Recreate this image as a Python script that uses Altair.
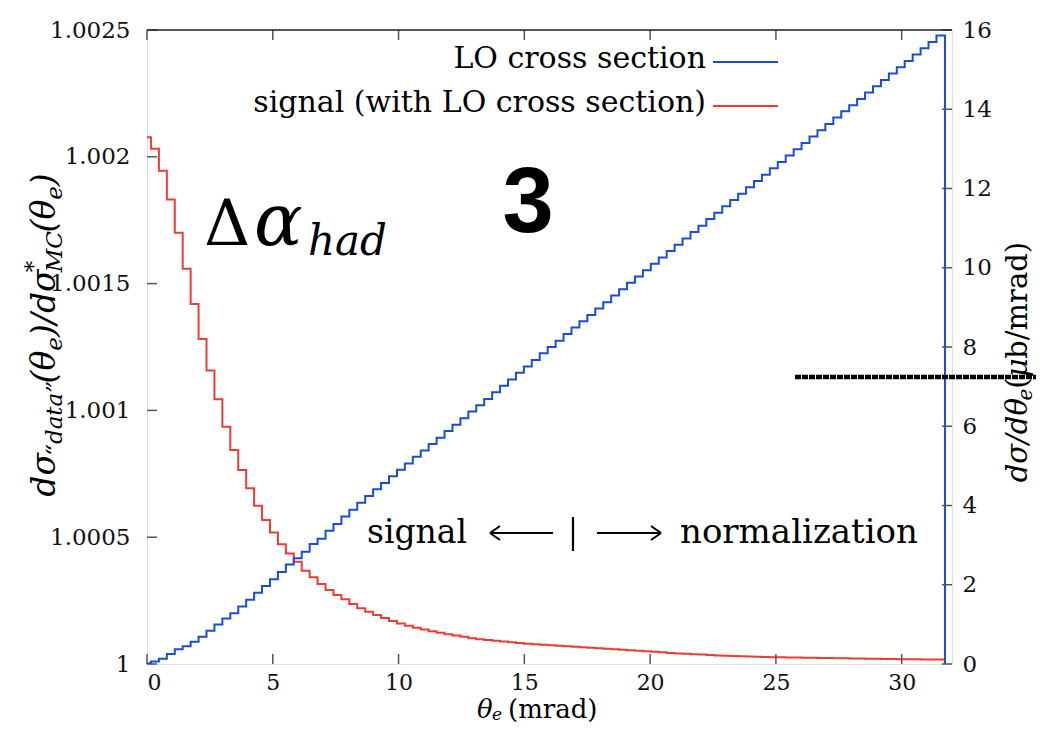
import altair as alt
import pandas as pd

# ---------------- data ----------------
BIN_W = 0.3154          # mrad, width of one histogram bin
X_END = 31.72           # mrad, end of the last bin

# LO cross section dσ/dθe (µb/mrad), one value per bin (first bin is a half bin)
blue_vals = [
    0.02, 0.06, 0.13, 0.25, 0.37, 0.45, 0.56, 0.69, 0.84, 1.00,
    1.15, 1.28, 1.45, 1.62, 1.80, 1.97, 2.14, 2.32, 2.51, 2.67,
    2.83, 3.03, 3.16, 3.36, 3.53, 3.72, 3.89, 4.07, 4.24, 4.41,
    4.57, 4.74, 4.90, 5.06, 5.23, 5.39, 5.55, 5.71, 5.88, 6.04,
    6.20, 6.37, 6.53, 6.69, 6.86, 7.02, 7.18, 7.35, 7.51, 7.67,
    7.84, 8.00, 8.16, 8.33, 8.49, 8.65, 8.81, 8.97, 9.13, 9.30,
    9.46, 9.62, 9.78, 9.94, 10.10, 10.26, 10.42, 10.58, 10.74, 10.90,
    11.06, 11.23, 11.39, 11.55, 11.71, 11.87, 12.03, 12.19, 12.35, 12.51,
    12.67, 12.83, 12.99, 13.15, 13.31, 13.47, 13.63, 13.79, 13.95, 14.10,
    14.26, 14.42, 14.58, 14.74, 14.90, 15.06, 15.22, 15.38, 15.54, 15.70,
    15.86,
]

# signal ratio minus one, in units of 1e-4
red_excess_e4 = [
    20.77, 20.32, 19.45, 18.32, 17.01, 15.59, 14.20, 12.82, 11.57, 10.44,
    9.36, 8.44, 7.65, 6.93, 6.24, 5.68, 5.19, 4.72, 4.36, 4.03,
    3.68, 3.42, 3.15, 2.92, 2.72, 2.55, 2.37, 2.20, 2.06, 1.93,
    1.81, 1.70, 1.60, 1.51, 1.43, 1.36, 1.29, 1.23, 1.17, 1.12,
    1.07, 1.02, 0.98, 0.95, 0.92, 0.89, 0.86, 0.83, 0.80, 0.78,
    0.76, 0.74, 0.72, 0.70, 0.68, 0.66, 0.64, 0.62, 0.60, 0.58,
    0.56, 0.54, 0.52, 0.50, 0.48, 0.46, 0.43, 0.415, 0.40, 0.385,
    0.37, 0.355, 0.34, 0.325, 0.315, 0.305, 0.295, 0.285, 0.278, 0.27,
    0.263, 0.257, 0.252, 0.247, 0.242, 0.237, 0.232, 0.228, 0.224, 0.22,
    0.215, 0.21, 0.205, 0.20, 0.196, 0.192, 0.188, 0.185, 0.182, 0.179,
    0.176,
]
assert len(blue_vals) == 101 and len(red_excess_e4) == 101

x_ticks = [0, 5, 10, 15, 20, 25, 30]
left_ticks = [1.0, 1.0005, 1.001, 1.0015, 1.002, 1.0025]
right_ticks = [0, 2, 4, 6, 8, 10, 12, 14, 16]

# ---------------- tables ----------------
edges = [0.0] + [(k - 0.5) * BIN_W for k in range(1, len(blue_vals))]

blue_rows = [{"theta": e, "val2": v} for e, v in zip(edges, blue_vals)]
blue_rows += [{"theta": X_END, "val2": blue_vals[-1]}, {"theta": X_END, "val2": 0.0}]
blue_df = pd.DataFrame(blue_rows)
blue_df["i"] = range(len(blue_df))

red_rows = [{"theta": e, "val": 1 + v * 1e-4} for e, v in zip(edges, red_excess_e4)]
red_rows += [{"theta": X_END, "val": 1 + red_excess_e4[-1] * 1e-4}, {"theta": X_END, "val": 1.0}]
red_df = pd.DataFrame(red_rows)
red_df["i"] = range(len(red_df))

# ---------------- layout ----------------
W, H = 805, 634
PAD = {"left": 139, "top": 22, "right": 84, "bottom": 60}
OX, OY = 8 + PAD["left"], 8 + PAD["top"]     # page position of plot origin
SERIF = "DejaVu Serif"
SANS = "Liberation Sans"
BLUE = "#1b4cd6"
RED = "#ee3b34"
TICK = "#555555"
LAB = 23

x_enc = alt.X(
    "theta:Q",
    scale=alt.Scale(domain=[0, 32], nice=False, zero=False),
    axis=alt.Axis(values=x_ticks, ticks=False, tickSize=0, domain=False, grid=False,
                  labelFont=SERIF, labelFontSize=22, labelColor="#111",
                  labelPadding=8, title=None),
)
y_left = alt.Y(
    "val:Q",
    scale=alt.Scale(domain=[1.0, 1.0025], nice=False, zero=False),
    axis=alt.Axis(orient="left", values=left_ticks, format="~g", ticks=False, tickSize=0,
                  domain=False, grid=False, labelFont=SERIF, labelFontSize=LAB,
                  labelColor="#111", labelPadding=17, title=None),
)
y_right = alt.Y(
    "val2:Q",
    scale=alt.Scale(domain=[0, 16], nice=False, zero=False),
    axis=alt.Axis(orient="right", values=right_ticks, ticks=False, tickSize=0,
                  domain=False, grid=False, labelFont=SERIF, labelFontSize=LAB,
                  labelColor="#111", labelPadding=10, title=None),
)

red = alt.Chart(red_df).mark_line(interpolate="step-after", color=RED, strokeWidth=2).encode(
    x=x_enc, y=y_left, order="i:Q")
lt = alt.Chart(pd.DataFrame({"val": left_ticks})).mark_rule(color=TICK, strokeWidth=1.5).encode(
    y=y_left, x=alt.value(0), x2=alt.value(10))
xt_df = pd.DataFrame({"theta": x_ticks})
xb = alt.Chart(xt_df).mark_rule(color=TICK, strokeWidth=1.5).encode(
    x=x_enc, y=alt.value(H - 10), y2=alt.value(H))
xtop = alt.Chart(xt_df).mark_rule(color=TICK, strokeWidth=1.5).encode(
    x=x_enc, y=alt.value(0), y2=alt.value(10))
left_group = alt.layer(red, lt, xb, xtop)

blue = alt.Chart(blue_df).mark_line(interpolate="step-after", color=BLUE, strokeWidth=2).encode(
    x=x_enc, y=y_right, order="i:Q")
rt = alt.Chart(pd.DataFrame({"val2": right_ticks})).mark_rule(color=TICK, strokeWidth=1.5).encode(
    y=y_right, x=alt.value(W - 10), x2=alt.value(W))
right_group = alt.layer(blue, rt)


def txt(s, page_x, page_y, size, font=SERIF, style="normal", weight="normal",
        align="left", angle=0, baseline="alphabetic", color="#000000"):
    mk = dict(font=font, fontSize=size, fontStyle=style, fontWeight=weight,
              align=align, baseline=baseline, color=color)
    if angle:
        mk["angle"] = angle
    return alt.Chart(pd.DataFrame({"t": [s]})).mark_text(**mk).encode(
        x=alt.value(page_x - OX), y=alt.value(page_y - OY), text="t:N")


def seg(x1, y1, x2, y2, color, width, dash=None):
    mk = dict(color=color, strokeWidth=width)
    if dash:
        mk["strokeDash"] = dash
    return alt.Chart(pd.DataFrame({"a": [0]})).mark_rule(**mk).encode(
        x=alt.value(x1 - OX), x2=alt.value(x2 - OX),
        y=alt.value(y1 - OY), y2=alt.value(y2 - OY))


ann = []
# top frame line
ann.append(seg(OX, OY, OX + W, OY, "#222222", 1.5))
# legend
ann.append(txt("LO cross section", 706, 68, 30, align="right"))
ann.append(seg(713, 62, 778, 62, BLUE, 2))
ann.append(txt("signal (with LO cross section)", 706, 112, 30, align="right"))
ann.append(seg(713, 106, 778, 106, RED, 2))
# big labels
ann.append(txt("3", 528, 232, 92, font=SANS, weight="bold", align="center"))
ann.append(txt("Δ", 204, 245, 64))
ann.append(txt("α", 254, 245, 72, style="italic"))
ann.append(txt("had", 308, 255, 42, style="italic"))
# signal <-- | --> normalization
ann.append(txt("signal", 367, 543, 33))
ann.append(seg(490, 533, 553, 533, "#000000", 2))      # left arrow shaft
ann.append(seg(490, 533, 500, 526, "#000000", 2))      # left arrow head
ann.append(seg(490, 533, 500, 540, "#000000", 2))
ann.append(seg(573, 517, 573, 551, "#000000", 2.2))    # separator bar
ann.append(seg(597, 533, 661, 533, "#000000", 2))      # right arrow shaft
ann.append(seg(661, 533, 651, 526, "#000000", 2))      # right arrow head
ann.append(seg(661, 533, 651, 540, "#000000", 2))
ann.append(txt("normalization", 680, 543, 34))
# scribbled black line
ann.append(seg(795, 377, 1036, 377, "#000000", 4.5, dash=[6, 1]))

# x title
ann.append(txt("θ", 477, 718, 26, style="italic"))
ann.append(txt("e", 492, 720, 17, style="italic"))
ann.append(txt("(mrad)", 508, 718, 26))

# left title pieces (rotated, reading bottom to top)
LM, LS = 33, 23
left_pieces = [  # text, role, em width
    ("dσ", "main", 1.24), ("“data”", "sub", 3.15), ("(θ", "main", 0.99),
    ("e", "sub", 0.592), (")/dσ", "main", 1.967), ("*", "sup", 0.0),
    ("MC", "sub", 1.729), ("(θ", "main", 0.99), ("e", "sub", 0.592), (")", "main", 0.39),
]
total = sum(w * (LM if r == "main" else LS) for _, r, w in left_pieces)
pos = 335 + total / 2
for s, r, w in left_pieces:
    size = LM if r == "main" else LS
    bx = {"main": 55, "sub": 62, "sup": 41}[r]
    ann.append(txt(s, bx, pos, size, style="italic", angle=270))
    pos -= w * size

# right title pieces
RM, RS = 29, 20
right_pieces = [
    ("dσ/dθ", "main", "italic", 2.82), ("e", "sub", "italic", 0.592),
    ("(", "main", "normal", 0.39), ("μ", "main", "italic", 0.64),
    ("b/mrad)", "main", "normal", 3.83),
]
total = sum(w * (RM if r == "main" else RS) for _, r, _, w in right_pieces)
pos = 365 + total / 2
for s, r, st, w in right_pieces:
    size = RM if r == "main" else RS
    bx = {"main": 1027, "sub": 1032}[r]
    ann.append(txt(s, bx, pos, size, style=st, angle=270))
    pos -= w * size

ann_group = alt.layer(*ann)

chart = (
    alt.layer(left_group, right_group, ann_group)
    .resolve_scale(y="independent")
    .properties(width=W, height=H, padding=PAD, autosize=alt.AutoSizeParams(type="none"))
    .configure_view(stroke="#777777", strokeWidth=1.5)
    .configure(background="white")
)

chart.save("out.html", embed_options={"renderer": "svg", "actions": False})
